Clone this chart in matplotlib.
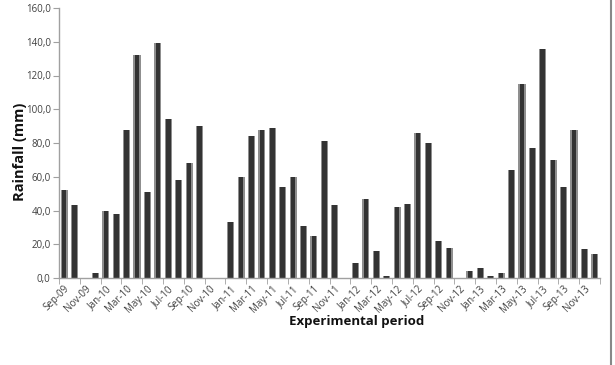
import matplotlib
matplotlib.use("Agg")
import matplotlib.pyplot as plt
from matplotlib.lines import Line2D
import numpy as np

months = ["Sep-09","Oct-09","Nov-09","Dec-09",
          "Jan-10","Feb-10","Mar-10","Apr-10","May-10","Jun-10","Jul-10","Aug-10","Sep-10","Oct-10","Nov-10","Dec-10",
          "Jan-11","Feb-11","Mar-11","Apr-11","May-11","Jun-11","Jul-11","Aug-11","Sep-11","Oct-11","Nov-11","Dec-11",
          "Jan-12","Feb-12","Mar-12","Apr-12","May-12","Jun-12","Jul-12","Aug-12","Sep-12","Oct-12","Nov-12","Dec-12",
          "Jan-13","Feb-13","Mar-13","Apr-13","May-13","Jun-13","Jul-13","Aug-13","Sep-13","Oct-13","Nov-13","Dec-13"]
rainfall = [52, 43, 0, 3,
            40, 38, 88, 132, 51, 139, 94, 58, 68, 90, 0, 0,
            33, 60, 84, 88, 89, 54, 60, 31, 25, 81, 43, 0,
            9, 47, 16, 1, 42, 44, 86, 80, 22, 18, 0, 4,
            6, 1, 3, 64, 115, 77, 136, 70, 54, 88, 17, 14]
yticks = [0, 20, 40, 60, 80, 100, 120, 140, 160]

plt.rcParams['font.family'] = ['Open Sans', 'DejaVu Sans']

fig = plt.figure(figsize=(6.15, 3.65), dpi=100)
ax = fig.add_axes([59/615, 1-278/365, (600-59)/615, 270/365])

x = np.arange(len(months))
ax.bar(x, rainfall, width=0.68, color='#8f8f8f', linewidth=0)
ax.bar(x, rainfall, width=0.44, color='#333333', linewidth=0)

ax.set_xlim(-0.5, len(months)-0.5)
ax.set_ylim(0, 160)
ax.set_yticks(yticks)
ax.set_yticklabels([f"{v:.1f}".replace('.', ',') for v in yticks], fontsize=7, color='#404040')

ax.set_xticks(x[::2])
ax.set_xticklabels(months[::2], rotation=45, ha='right', rotation_mode='anchor',
                   fontsize=7, color='#404040')
ax.tick_params(axis='x', length=0, pad=4)
ax.set_xticks(np.arange(-0.5, len(months), 2), minor=True)
ax.tick_params(axis='x', which='minor', length=4, color='#a0a0a0', direction='out')
ax.tick_params(axis='y', length=4, color='#a0a0a0', direction='out', pad=2)

for s in ['top', 'right']:
    ax.spines[s].set_visible(False)
for s in ['left', 'bottom']:
    ax.spines[s].set_color('#a0a0a0')
    ax.spines[s].set_linewidth(1)

fig.text(20/615, 1-152/365, "Rainfall (mm)", rotation=90, ha='center', va='center',
         fontsize=10.5, fontweight='bold', color='#111111')
fig.text(357/615, 1-322/365, "Experimental period", ha='center', va='center',
         fontsize=9.5, fontweight='bold', color='#111111')

fig.add_artist(Line2D([610.5/615, 610.5/615], [0, 1], transform=fig.transFigure,
                      color='#888888', linewidth=1.5))

fig.savefig("out.png", dpi=100)
